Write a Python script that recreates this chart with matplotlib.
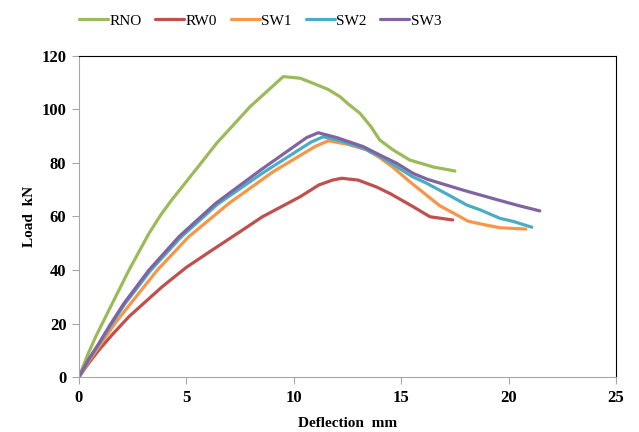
import matplotlib.pyplot as plt

# deflection (mm) / load (kN)
rno_x = [0, 0.4, 0.78, 1.55, 2.33, 3.26, 3.8, 4.3, 5.43, 6.41, 7.96, 9.51, 10.29, 10.9, 11.6, 12.15, 12.5, 13.08, 13.6, 14.0, 14.6, 15.4, 16.5, 17.5]
rno_y = [0, 8.2, 15.1, 27.5, 40, 53.7, 60.5, 66, 77.4, 87.4, 101, 112.3, 111.7, 109.8, 107.5, 104.8, 102.3, 98.6, 93.5, 88.6, 85, 81.1, 78.5, 77]

rw0_x = [0, 0.45, 0.93, 1.6, 2.33, 3.88, 5.0, 6.21, 7.4, 8.54, 10.3, 11.17, 11.8, 12.23, 13.0, 13.86, 14.5, 15.55, 16.34, 17.4]
rw0_y = [0, 5.2, 10.1, 16.3, 22.6, 33.8, 41, 47.5, 53.8, 59.9, 67.4, 71.8, 73.6, 74.3, 73.6, 71, 68.5, 63.7, 59.9, 58.7]

sw1_x = [0, 0.5, 1.0, 1.7, 2.41, 3.65, 5.12, 6.98, 9.05, 11.0, 11.61, 12.5, 13.4, 14.0, 14.6, 15.4, 16.1, 16.8, 17.5, 18.1, 18.7, 19.6, 20.8]
sw1_y = [0, 6.5, 12.2, 20.3, 27.5, 40, 52.5, 64.9, 76.8, 86.2, 88.3, 87, 84.9, 82, 78.5, 73, 68.5, 64, 61, 58.3, 57.2, 55.8, 55.3]

sw2_x = [0, 0.45, 0.95, 1.5, 2.15, 3.35, 4.75, 6.45, 8.5, 10.8, 11.37, 12.2, 13.24, 14.0, 14.79, 15.5, 16.19, 17.1, 18.05, 18.67, 19.6, 20.2, 21.08]
sw2_y = [0, 6.5, 12.5, 19.6, 27.5, 40, 52.3, 64.6, 76, 87.8, 89.8, 88.2, 85.5, 82.5, 78.6, 75, 72.4, 68.5, 64.3, 62.5, 59.3, 58.2, 56]

sw3_x = [0, 0.45, 0.93, 1.45, 2.09, 3.26, 4.66, 6.36, 8.46, 10.6, 11.14, 12.0, 13.24, 14.0, 14.79, 15.56, 16.19, 17.0, 17.95, 19.5, 20.5, 21.45]
sw3_y = [0, 6.6, 12.6, 19.5, 27.5, 40, 52.5, 64.9, 77.4, 89.5, 91.3, 89.5, 86.1, 83, 79.9, 76.1, 74, 72, 69.7, 66.2, 64, 62.1]

series = [
    ('RNO', rno_x, rno_y, '#9BBB59'),
    ('RW0', rw0_x, rw0_y, '#C0504D'),
    ('SW1', sw1_x, sw1_y, '#F79646'),
    ('SW2', sw2_x, sw2_y, '#4BACC6'),
    ('SW3', sw3_x, sw3_y, '#8064A2'),
]

plt.rcParams['font.family'] = ['Liberation Serif', 'DejaVu Serif']

fig = plt.figure(figsize=(6.39, 4.32), dpi=100)
ax = fig.add_axes([0.1236, 0.1273, 0.8404, 0.7431])

for name, xs, ys, col in series:
    ax.plot(xs, ys, color=col, lw=2.3, label=name,
            solid_joinstyle='round', solid_capstyle='round')

ax.set_xlim(0, 25)
ax.set_ylim(0, 120)
ax.set_xticks(range(0, 26, 5))
ax.set_yticks(range(0, 121, 20))

for s in ['left', 'bottom']:
    ax.spines[s].set_color('#a6a6a6')
for s in ['top', 'right']:
    ax.spines[s].set_color('black')
ax.tick_params(direction='out', length=5, color='#a6a6a6', labelsize=12, pad=4)
for lab in ax.get_xticklabels() + ax.get_yticklabels():
    lab.set_fontweight('bold')

ax.set_xlabel('Deflection  mm', fontsize=11, fontweight='bold', labelpad=8)
ax.set_ylabel('Load  kN', fontsize=11, fontweight='bold', labelpad=4)

fig.legend(loc='center', bbox_to_anchor=(0.407, 0.952), ncol=5, frameon=False,
           fontsize=11, handlelength=1.9, handletextpad=0.1, columnspacing=0.9)

fig.savefig('out.png', dpi=100)
